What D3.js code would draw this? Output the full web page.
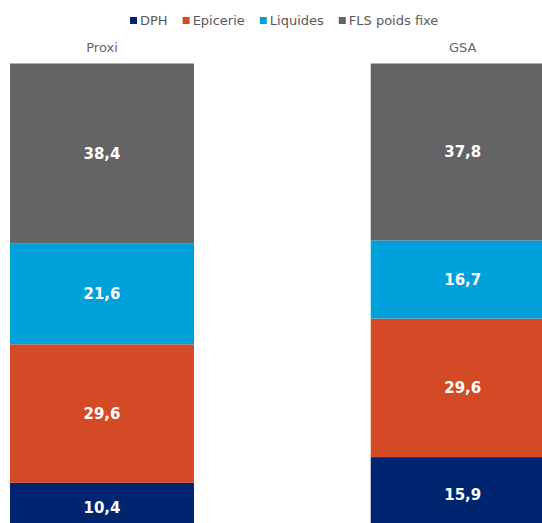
<!DOCTYPE html>
<html>
<head>
<meta charset="utf-8">
<script src="https://cdn.jsdelivr.net/npm/d3@7"></script>
<style>
  html, body { margin: 0; padding: 0; background: #ffffff; }
  svg { display: block; }
</style>
</head>
<body>
<svg id="chart" width="542" height="523"></svg>
<script>
// Store formats, bottom-to-top stacking order
const categories = ["Proxi", "GSA"];
const seriesNames = ["DPH", "Epicerie", "Liquides", "FLS poids fixe"];
const dphValues = [10.4, 15.9];
const epicerieValues = [29.6, 29.6];
const liquidesValues = [21.6, 16.7];
const flsValues = [38.4, 37.8];
const seriesColors = ["#002570", "#d44a27", "#00a0db", "#636466"];

const rows = categories.map((c, i) => ({
  category: c,
  "DPH": dphValues[i],
  "Epicerie": epicerieValues[i],
  "Liquides": liquidesValues[i],
  "FLS poids fixe": flsValues[i]
}));

const svg = d3.select("#chart");

const x = d3.scaleBand()
  .domain(categories)
  .range([10, 554.7])
  .paddingInner(0.49)
  .paddingOuter(0);

const y = d3.scaleLinear()
  .domain([0, 100])
  .range([531.5, 63.5]);

const color = d3.scaleOrdinal().domain(seriesNames).range(seriesColors);

const stacked = d3.stack().keys(seriesNames)(rows);

const fr = d3.formatLocale({ decimal: ",", thousands: " ", grouping: [3], currency: ["", " €"] });
const fmt = fr.format(".1f");

// Stacked segments
const layers = svg.append("g").selectAll("g")
  .data(stacked)
  .join("g")
  .attr("fill", d => color(d.key));

layers.selectAll("rect")
  .data(d => d)
  .join("rect")
  .attr("x", d => x(d.data.category))
  .attr("width", x.bandwidth())
  .attr("y", d => y(d[1]))
  .attr("height", d => y(d[0]) - y(d[1]));

// Value labels inside each segment
const labels = svg.append("g")
  .attr("font-family", "'DejaVu Sans', Verdana, sans-serif")
  .attr("font-weight", "bold")
  .attr("font-size", 15)
  .attr("fill", "#ffffff")
  .attr("text-anchor", "middle");

stacked.forEach(layer => {
  labels.selectAll(null)
    .data(layer)
    .join("text")
    .attr("x", d => x(d.data.category) + x.bandwidth() / 2)
    .attr("y", d => (y(d[0]) + y(d[1])) / 2)
    .attr("dy", "0.36em")
    .text(d => fmt(d[1] - d[0]));
});

// Category names above the bars
const xAxis = d3.axisTop(x).tickSize(0).tickPadding(0);
const axisG = svg.append("g")
  .attr("transform", "translate(0,52)")
  .call(xAxis);
axisG.select(".domain").remove();
axisG.selectAll("text")
  .attr("font-family", "'DejaVu Sans', Verdana, sans-serif")
  .attr("font-size", 13)
  .attr("fill", "#666666")
  .attr("dy", 0);

// Legend
const legend = svg.append("g")
  .attr("transform", "translate(130,0)")
  .attr("font-family", "'DejaVu Sans', Verdana, sans-serif")
  .attr("font-size", 13)
  .attr("fill", "#595959");

let lx = 0;
seriesNames.forEach(name => {
  const item = legend.append("g").attr("transform", `translate(${lx},0)`);
  item.append("rect")
    .attr("x", 0)
    .attr("y", 17)
    .attr("width", 7)
    .attr("height", 7)
    .attr("fill", color(name));
  const t = item.append("text")
    .attr("x", 10)
    .attr("y", 25)
    .text(name);
  lx += 10 + t.node().getComputedTextLength() + 15;
});
</script>
</body>
</html>
